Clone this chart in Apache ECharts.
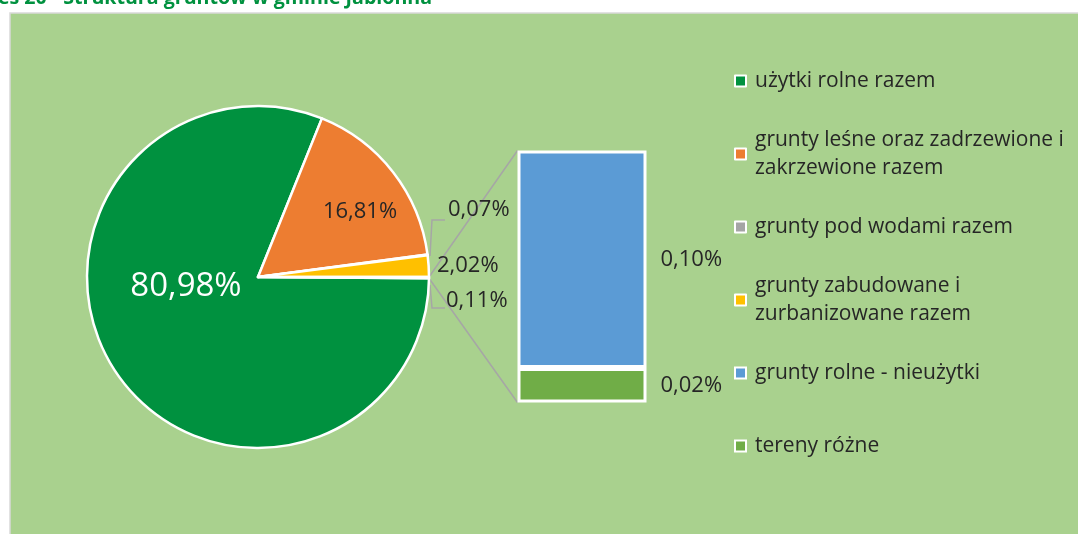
<!DOCTYPE html>
<html>
<head>
<meta charset="utf-8">
<script src="https://cdn.jsdelivr.net/npm/echarts@6/dist/echarts.min.js"></script>
<style>
html,body{margin:0;padding:0;background:#fff;}
#chart{width:1078px;height:534px;}
</style>
</head>
<body>
<div id="chart"></div>
<script>
// dane - wykres kołowy
const titleText = 'Wykres 20 - Struktura gruntów w gminie Jabłonna'
const pieNames = ['użytki rolne razem', 'grunty leśne oraz zadrzewione i zakrzewione razem', 'grunty pod wodami razem', 'grunty zabudowane i zurbanizowane razem', 'pozostałe']
const pieColors = ['#00913F', '#ED7D31', '#A5A5A5', '#FFC000', '#00913F']
const pieValues = [80.98, 16.81, 0.07, 2.02]   // 'pozostałe' = suma słupka

// dane - słupek (rozbicie "pozostałe")
const barNames = ['grunty rolne - nieużytki', 'tereny różne']
const barColors = ['#5B9BD5', '#70AD47']
const barValues = [0.096, 0.0152]

// legenda
const legendNames = ['użytki rolne razem', 'grunty leśne oraz zadrzewione i zakrzewione razem', 'grunty pod wodami razem', 'grunty zabudowane i zurbanizowane razem', 'grunty rolne - nieużytki', 'tereny różne']
const legendWrap = {
    'grunty leśne oraz zadrzewione i zakrzewione razem': 'grunty leśne oraz zadrzewione i\nzakrzewione razem',
    'grunty zabudowane i zurbanizowane razem': 'grunty zabudowane i\nzurbanizowane razem'
}

// uklad
const FONT = '"Open Sans", "Noto Sans", sans-serif'
const PIE_CX = 258, PIE_CY = 277, PIE_R = 171
const BAR_LEFT = 517.5, BAR_TOP = 150.5, BAR_W = 129, BAR_H = 252
const LEG_X = 734, LEG_Y0 = 81, LEG_STEP = 73, LEG_LH = 28
const LABEL_SIZE = 22

const fmt = v => v.toFixed(2).replace('.', ',') + '%'

const otherValue = barValues.reduce((a, b) => a + b, 0)
const allPie = pieValues.concat([otherValue])
const pieTotal = allPie.reduce((a, b) => a + b, 0)
const otherAngle = otherValue / pieTotal * 360

let myChart = echarts.init(document.getElementById('chart'))

// linie laczace kolo ze slupkiem
const rad = Math.PI / 180
const upStart = [PIE_CX + PIE_R, PIE_CY]
const lowStart = [PIE_CX + PIE_R * Math.cos(otherAngle * rad), PIE_CY + PIE_R * Math.sin(otherAngle * rad)]

let legends = legendNames.map((name, i) => {
    let wrapped = !!legendWrap[name]
    let c = LEG_Y0 + i * LEG_STEP
    return {
        data: [name],
        orient: 'vertical',
        left: LEG_X,
        top: wrapped ? c - LEG_LH * 1.5 : c - LEG_LH / 2,
        padding: 0,
        icon: 'rect',
        itemWidth: 11,
        itemHeight: 11,
        itemStyle: { borderColor: '#fff', borderWidth: 2 },
        selectedMode: false,
        formatter: n => legendWrap[n] || n,
        textStyle: {
            fontFamily: FONT,
            fontSize: 21,
            color: '#262626',
            lineHeight: LEG_LH,
            padding: wrapped ? [LEG_LH, 0, 0, 4] : [0, 0, 0, 4]
        }
    }
})

let option = {
    animation: false,
    backgroundColor: '#fff',
    graphic: [
        {
            type: 'rect', z: 0,
            shape: { x: 10, y: 13, width: 1080, height: 540 },
            style: { fill: '#A9D18E', stroke: '#D9D9D9', lineWidth: 1.5 }
        },
        {
            type: 'text', z: 0,
            style: {
                text: titleText, x: 432, y: 8,
                font: 'bold 19.6px ' + FONT,
                fill: '#00913F',
                align: 'right', verticalAlign: 'bottom',
                textAlign: 'right', textVerticalAlign: 'bottom'
            }
        },
        {
            type: 'line', z: 1,
            shape: { x1: upStart[0], y1: upStart[1], x2: BAR_LEFT, y2: BAR_TOP },
            style: { stroke: '#A6A6A6', lineWidth: 1.5 }
        },
        {
            type: 'line', z: 1,
            shape: { x1: lowStart[0], y1: lowStart[1], x2: BAR_LEFT, y2: BAR_TOP + BAR_H },
            style: { stroke: '#A6A6A6', lineWidth: 1.5 }
        }
    ],
    legend: legends,
    grid: { left: BAR_LEFT, top: BAR_TOP, width: BAR_W, height: BAR_H },
    xAxis: { type: 'category', data: ['pozostałe'], show: false },
    yAxis: { type: 'value', min: 0, max: otherValue, show: false },
    series: [
        {
            name: 'struktura',
            type: 'pie',
            center: [PIE_CX, PIE_CY],
            radius: PIE_R,
            startAngle: -otherAngle,
            clockwise: true,
            avoidLabelOverlap: false,
            emphasis: { disabled: true },
            itemStyle: { borderColor: '#fff', borderWidth: 2.5 },
            label: {
                show: true,
                position: 'outside',
                formatter: p => fmt(p.value),
                fontFamily: FONT,
                fontSize: LABEL_SIZE,
                color: '#262626'
            },
            labelLine: { show: false, lineStyle: { color: '#A6A6A6', width: 1.5 } },
            labelLayout: params => {
                let i = params.dataIndex
                if (i === 0) return { x: PIE_CX - 72, y: PIE_CY + 10, align: 'center', verticalAlign: 'middle' }
                if (i === 1) return { x: PIE_CX + 102, y: PIE_CY - 65, align: 'center', verticalAlign: 'middle' }
                if (i === 2) return {
                    x: PIE_CX + 190, y: PIE_CY - 67, align: 'left', verticalAlign: 'middle',
                    labelLinePoints: [[PIE_CX + 172, PIE_CY - 21], [PIE_CX + 174, PIE_CY - 57], [PIE_CX + 187, PIE_CY - 57]]
                }
                if (i === 3) return { x: PIE_CX + 179, y: PIE_CY - 11, align: 'left', verticalAlign: 'middle' }
                return {
                    x: PIE_CX + 188, y: PIE_CY + 24, align: 'left', verticalAlign: 'middle',
                    labelLinePoints: [[PIE_CX + 172, PIE_CY + 8], [PIE_CX + 174, PIE_CY + 31], [PIE_CX + 187, PIE_CY + 31]]
                }
            },
            data: allPie.map((v, i) => {
                let item = { name: pieNames[i], value: v, itemStyle: { color: pieColors[i] } }
                if (i === 0) item.label = { color: '#fff', fontSize: 33 }
                if (i === 2 || i === 4) item.labelLine = { show: true }
                return item
            })
        },
        // słupek: najpierw dolny segment
        {
            name: barNames[1],
            type: 'bar',
            stack: 'rest',
            barWidth: '100%',
            itemStyle: { color: barColors[1], borderColor: '#fff', borderWidth: 3 },
            label: { show: true, position: 'right', distance: 14, formatter: p => fmt(p.value), fontFamily: FONT, fontSize: LABEL_SIZE, color: '#262626' },
            emphasis: { disabled: true },
            data: [barValues[1]]
        },
        {
            name: barNames[0],
            type: 'bar',
            stack: 'rest',
            barWidth: '100%',
            itemStyle: { color: barColors[0], borderColor: '#fff', borderWidth: 3 },
            label: { show: true, position: 'right', distance: 14, formatter: p => fmt(p.value), fontFamily: FONT, fontSize: LABEL_SIZE, color: '#262626' },
            emphasis: { disabled: true },
            data: [barValues[0]]
        }
    ]
}
myChart.setOption(option, true)
</script>
</body>
</html>
